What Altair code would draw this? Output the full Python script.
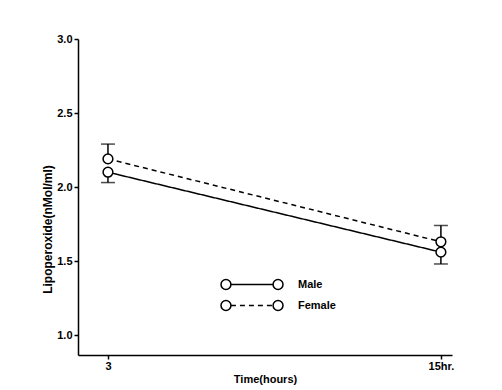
import altair as alt
import pandas as pd

# --- data ---
time = [3, 15]
sexes = ["Male", "Female"]
male = [2.10, 1.56]
female = [2.19, 1.63]
male_low = [2.03, 1.48]      # lower error-bar ends (male)
female_high = [2.29, 1.74]   # upper error-bar ends (female)
x_ticks = [3, 15]
y_ticks = [1.0, 1.5, 2.0, 2.5, 3.0]

rows = []
for t, m, f in zip(time, male, female):
    rows.append({"time": t, "sex": "Male", "group": "Male", "value": m})
    rows.append({"time": t, "sex": "Female", "group": "Female", "value": f})
df = pd.DataFrame(rows)

err_rows = []
for t, m, ml, f, fh in zip(time, male, male_low, female, female_high):
    err_rows.append({"time": t, "sex": "Male", "value": m, "bound": ml})
    err_rows.append({"time": t, "sex": "Female", "value": f, "bound": fh})
err = pd.DataFrame(err_rows)

FONT = "Liberation Sans"

x = alt.X(
    "time:Q",
    scale=alt.Scale(domain=[1.92, 15.4], nice=False, zero=False),
    axis=alt.Axis(
        values=x_ticks,
        labelExpr="datum.value == 15 ? '15hr.' : datum.label",
        title="Time(hours)",
        tickSize=4,
        labelPadding=1,
        titlePadding=2,
    ),
)
y = alt.Y(
    "value:Q",
    scale=alt.Scale(domain=[0.865, 3.0], nice=False, zero=False),
    axis=alt.Axis(
        values=y_ticks,
        format=".1f",
        title="Lipoperoxide(nMol/ml)",
        tickSize=4,
        labelPadding=2,
        titleX=-31,
        titleY=190,
        titleAlign="center",
        titleBaseline="middle",
        titleFontSize=12,
    ),
)

line_path = "M-0.68,0L0.68,0"
circles_path = (
    "M-1,0A0.16,0.16,0,1,0,-0.68,0A0.16,0.16,0,1,0,-1,0"
    "M0.68,0A0.16,0.16,0,1,0,1,0A0.16,0.16,0,1,0,0.68,0"
)

LEG_X, LEG_Y = 142, 236
common_leg = dict(
    title=None,
    orient="none",
    legendX=LEG_X,
    legendY=LEG_Y,
    padding=0,
    symbolSize=3844,
    symbolStrokeColor="black",
    symbolStrokeWidth=1.5,
    clipHeight=19,
    labelOffset=14,
    labelFont=FONT,
    labelFontSize=11,
    labelFontWeight="bold",
    labelColor="black",
)

base = alt.Chart(df)

lines = base.mark_line(color="black", strokeWidth=1.5).encode(
    x=x,
    y=y,
    strokeDash=alt.StrokeDash(
        "sex:N",
        scale=alt.Scale(domain=sexes, range=[[1, 0], [5, 4]]),
        legend=alt.Legend(
            symbolType=line_path,
            symbolFillColor="transparent",
            labelExpr="''",
            **common_leg,
        ),
    ),
)

err_rules = alt.Chart(err).mark_rule(color="black", strokeWidth=1.5).encode(
    x=alt.X("time:Q"),
    y=alt.Y("value:Q"),
    y2="bound:Q",
)
err_caps = alt.Chart(err).mark_tick(
    orient="horizontal", size=14, thickness=1.5, color="black"
).encode(
    x=alt.X("time:Q"),
    y=alt.Y("bound:Q"),
)

points = base.mark_point(
    shape="circle", filled=True, stroke="black",
    strokeWidth=1.5, size=95, opacity=1,
).encode(
    x=alt.X("time:Q"),
    y=alt.Y("value:Q"),
    fill=alt.Fill(
        "group:N",
        scale=alt.Scale(domain=sexes, range=["white", "white"]),
        legend=alt.Legend(
            symbolType=circles_path,
            symbolFillColor="white",
            **common_leg,
        ),
    ),
)

chart = (
    alt.layer(err_rules, err_caps, lines, points)
    .resolve_legend(fill="independent", strokeDash="independent")
    .properties(
        width=374,
        height=316,
        autosize=alt.AutoSizeParams(type="none"),
        padding={"left": 70, "top": 31, "right": 40, "bottom": 35},
    )
    .configure_view(stroke=None)
    .configure_axis(
        grid=False,
        domainColor="black",
        domainWidth=1.5,
        tickColor="black",
        tickWidth=1.5,
        labelColor="black",
        labelFont=FONT,
        labelFontSize=11,
        labelFontWeight="bold",
        titleColor="black",
        titleFont=FONT,
        titleFontSize=11,
        titleFontWeight="bold",
    )
)

chart.save("out.html", embed_options={"renderer": "svg", "actions": False})
